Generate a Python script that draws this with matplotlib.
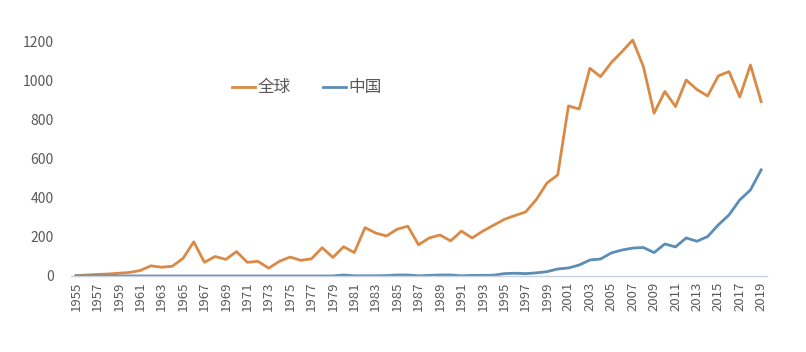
import matplotlib
matplotlib.use('Agg')
import matplotlib.pyplot as plt

years = list(range(1955, 2020))

global_vals = [2, 5, 8, 10, 14, 18, 28, 52, 45, 50,
               90, 175, 70, 100, 85, 125, 70, 75, 40, 75,
               97, 80, 88, 145, 95, 150, 120, 248, 220, 205,
               240, 255, 160, 195, 210, 180, 230, 195, 230, 260,
               290, 310, 328, 392, 477, 518, 872, 856, 1065, 1022,
               1094, 1150, 1210, 1074, 835, 946, 869, 1005, 956, 923,
               1026, 1048, 918, 1082, 894]

china_vals = [0, 0, 0, 0, 0, 0, 0, 0, 0, 0,
              0, 0, 0, 0, 0, 0, 0, 0, 0, 0,
              0, 0, 0, 0, 0, 5, 1, 1, 1, 2,
              5, 5, 1, 3, 5, 5, 1, 3, 3, 4,
              12, 14, 12, 16, 22, 36, 41, 56, 82, 87,
              118, 133, 143, 146, 120, 164, 149, 195, 178, 202,
              262, 313, 390, 441, 544]

series_names = ['全球', '中国']

plt.rcParams['font.family'] = ['Noto Sans CJK SC', 'DejaVu Sans']

fig = plt.figure(figsize=(8.06, 3.52), dpi=100)
ax = fig.add_axes([0.0876, 0.216, 0.8634, 0.7756])

x = list(range(len(years)))
ax.plot(x, global_vals, color='#DA8A45', linewidth=2.0, label=series_names[0], solid_joinstyle='round')
ax.plot(x, china_vals, color='#5B8DB6', linewidth=2.0, label=series_names[1], solid_joinstyle='round')

ax.set_xlim(-0.5, len(years) - 0.5)
ax.set_ylim(0, 1400)
ax.set_yticks(range(0, 1201, 200))
ax.set_xticks(x[::2])
ax.set_xticklabels([str(y) for y in years[::2]], rotation=90, fontsize=9.5, color='#595959')
ax.tick_params(axis='y', labelsize=10, labelcolor='#595959', length=0, pad=12)
ax.tick_params(axis='x', length=0, pad=4)

for s in ['top', 'right', 'left']:
    ax.spines[s].set_visible(False)
ax.spines['bottom'].set_color('#C9D1DC')
ax.spines['bottom'].set_linewidth(1)

leg = ax.legend(loc='center left', bbox_to_anchor=(0.232, 0.689), ncol=2, frameon=False,
                fontsize=12, handlelength=1.4, handletextpad=0.15, columnspacing=1.9,
                borderpad=0, borderaxespad=0)
for t in leg.get_texts():
    t.set_color('#595959')

fig.savefig('out.png', dpi=100)
